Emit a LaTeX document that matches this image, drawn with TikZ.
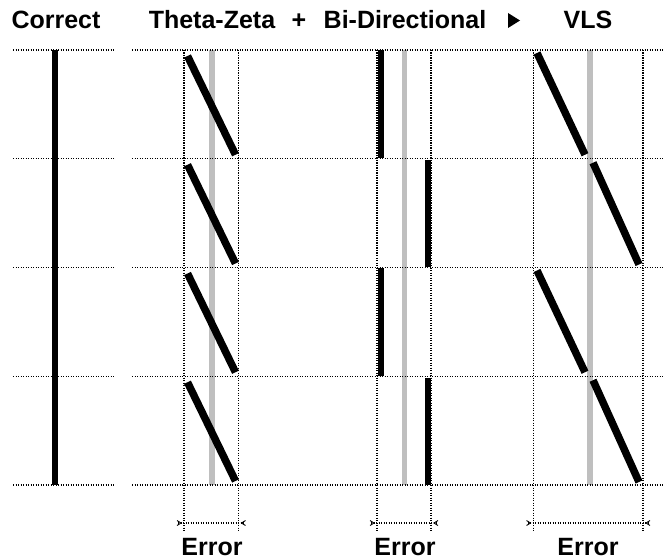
\documentclass[tikz,border=0pt]{standalone}
\usepackage{fontspec}
\setmainfont{Liberation Sans}
\begin{document}
\begin{tikzpicture}[x=1pt,y=-1pt,
  dotline/.style={black,line width=1.4pt,dash pattern=on 1.2pt off 1.3pt},
  greybar/.style={draw=black!25,line width=5.5pt},
  blackbar/.style={black,line width=6pt},
  diag/.style={black,line width=7.5pt},
  tip/.style={black,line width=0.9pt},
  title/.style={font=\fontsize{25}{29}\selectfont\bfseries,inner sep=0pt,anchor=base}]
\useasboundingbox (0,0) rectangle (664,559);
% titles
\node[title] (tcorrect) at (56,29) {Correct};
\node[title] (ttheta) at (212,29) {Theta-Zeta};
\node[title] (tplus) at (299,29) {+};
\node[title] (tbi) at (405,29) {Bi-Directional};
\node[title] (tvls) at (588,29) {VLS};
\fill (508,13) -- (520,20.5) -- (508,28) -- cycle;
% grey bars
\foreach \gx in {212,404.5,590} \draw[greybar] (\gx,50) -- (\gx,485);
% horizontal dotted lines
\foreach \hy in {50,158.75,267.5,376.25,485} {
  \draw[dotline] (13,\hy) -- (115,\hy);
  \draw[dotline] (132,\hy) -- (664,\hy);
}
% vertical dotted lines
\foreach \vx in {184,238.5,377,431,533.5,643} \draw[dotline] (\vx,50) -- (\vx,532);
% error dimension lines
\foreach \la/\lb/\cx in {184/238.5/212, 377/431/405, 533.5/643/588} {
  \draw[dotline] (\la-6,523) -- (\lb+6,523);
  \draw[tip] (\la-7,520.5) -- (\la-3,523) -- (\la-7,525.5);
  \draw[tip] (\lb+7,520.5) -- (\lb+3,523) -- (\lb+7,525.5);
  \node[title] at (\cx,555) {Error};
}
% correct
\draw[blackbar] (55,50) -- (55,485);
% theta-zeta
\foreach \t/\b in {50/158.75,158.75/267.5,267.5/376.25,376.25/485}
  \draw[diag] (187.5,\t+6) -- (235.5,\b-4);
% bi-directional
\draw[blackbar] (380.5,50) -- (380.5,158);
\draw[blackbar] (427.5,160) -- (427.5,267);
\draw[blackbar] (380.5,268) -- (380.5,376);
\draw[blackbar] (427.5,378) -- (427.5,485);
% VLS
\foreach \t/\m/\b in {50/158.75/267.5, 267.5/376.25/485} {
  \draw[diag] (537,\t+3) -- (585,\m-4);
  \draw[diag] (593,\m+4) -- (639,\b-3);
}
\end{tikzpicture}
\end{document}
